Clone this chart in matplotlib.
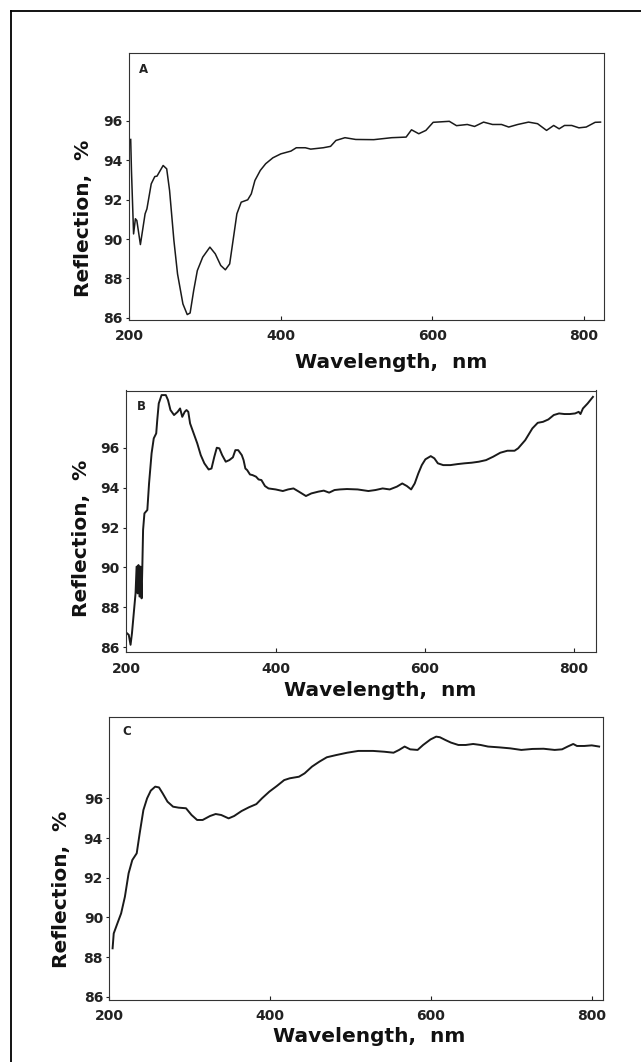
import matplotlib
matplotlib.use("Agg")
import matplotlib.pyplot as plt
from matplotlib.lines import Line2D

# ---------------- data ----------------
wl_a = [201.9, 202.9, 205.7, 208.1, 210.0, 214.7, 220.9, 223.3, 229.0, 233.7, 236.6, 244.7,
        249.4, 253.2, 258.9, 263.7, 270.8, 276.5, 280.3, 285.0, 289.8, 296.9, 306.4, 313.5,
        320.7, 326.8, 332.5, 338.2, 342.0, 347.7, 356.3, 361.0, 365.8, 372.9, 380.0, 389.5,
        400.0, 413.3, 420.4, 432.3, 439.4, 456.0, 465.6, 472.7, 484.6, 498.8, 522.6, 546.3,
        565.3, 572.4, 582.0, 591.4, 601.0, 622.3, 631.8, 646.0, 655.6, 667.5, 679.3, 691.2,
        700.7, 712.6, 726.8, 738.7, 750.6, 760.0, 767.2, 774.3, 783.8, 793.3, 802.9, 814.7, 821.8]
refl_a = [95.05, 93.48, 90.26, 91.03, 90.94, 89.72, 91.28, 91.53, 92.80, 93.17, 93.19, 93.73,
          93.56, 92.46, 89.93, 88.23, 86.71, 86.17, 86.25, 87.39, 88.40, 89.08, 89.59, 89.25,
          88.66, 88.44, 88.74, 90.26, 91.28, 91.87, 91.99, 92.29, 92.97, 93.48, 93.82, 94.12,
          94.32, 94.46, 94.63, 94.63, 94.56, 94.63, 94.70, 95.00, 95.14, 95.05, 95.04, 95.14,
          95.17, 95.54, 95.34, 95.51, 95.92, 95.97, 95.75, 95.81, 95.71, 95.93, 95.81, 95.81,
          95.68, 95.81, 95.93, 95.85, 95.51, 95.76, 95.59, 95.76, 95.76, 95.64, 95.68, 95.92, 95.93]

wl_b = [200.7, 203.1, 205.5, 207.4, 209.8, 212.2, 213.6, 215.1, 216.1, 217.5, 218.9, 220.3,
        221.3, 222.3, 224.1, 228.0, 230.3, 233.7, 236.6, 239.9, 241.3, 243.3, 247.1, 252.8,
        255.7, 259.0, 263.8, 268.6, 271.9, 274.8, 278.1, 280.5, 282.9, 285.3, 290.1, 294.9,
        299.6, 304.4, 310.2, 314.0, 317.8, 321.1, 324.5, 328.3, 333.1, 337.9, 342.7, 346.0,
        349.8, 354.6, 357.0, 359.4, 361.8, 365.6, 368.9, 373.7, 377.1, 380.9, 385.7, 390.4,
        400.0, 409.6, 416.7, 423.9, 431.1, 440.6, 447.8, 457.3, 464.5, 471.7, 478.9, 486.0,
        495.6, 509.9, 524.3, 533.8, 543.4, 552.9, 562.5, 569.7, 575.9, 581.6, 586.4, 591.2,
        595.9, 600.7, 607.9, 612.7, 617.4, 624.6, 634.2, 643.7, 653.3, 662.8, 672.4, 682.0,
        691.5, 701.1, 710.6, 720.2, 725.0, 734.5, 744.1, 751.3, 758.4, 765.6, 772.8, 779.9,
        787.1, 794.3, 801.4, 806.2, 808.6, 811.9, 818.2, 825.3]
refl_b = [86.70, 86.62, 86.12, 86.70, 87.70, 88.70, 90.04, 88.70, 90.12, 88.54, 90.04, 88.45,
          90.04, 91.88, 92.71, 92.88, 94.21, 95.72, 96.47, 96.72, 97.39, 98.22, 98.64, 98.64,
          98.39, 97.89, 97.64, 97.80, 97.97, 97.55, 97.80, 97.89, 97.80, 97.22, 96.72, 96.22,
          95.63, 95.22, 94.91, 94.96, 95.55, 96.00, 95.97, 95.63, 95.30, 95.38, 95.52, 95.88,
          95.88, 95.63, 95.38, 94.96, 94.88, 94.66, 94.63, 94.55, 94.41, 94.38, 94.08, 93.96,
          93.91, 93.83, 93.91, 93.96, 93.80, 93.58, 93.71, 93.80, 93.85, 93.75, 93.88, 93.91,
          93.93, 93.91, 93.83, 93.88, 93.96, 93.91, 94.05, 94.21, 94.08, 93.91, 94.21, 94.71,
          95.13, 95.42, 95.58, 95.47, 95.22, 95.13, 95.13, 95.18, 95.22, 95.25, 95.30, 95.38,
          95.55, 95.75, 95.85, 95.85, 95.97, 96.38, 96.97, 97.25, 97.30, 97.42, 97.64, 97.72,
          97.69, 97.69, 97.72, 97.80, 97.69, 97.97, 98.22, 98.55]

wl_c = [204.1, 205.5, 210.1, 214.7, 219.4, 224.0, 228.6, 234.1, 237.8, 242.4, 247.0, 251.6,
        257.1, 261.8, 266.4, 272.4, 279.3, 286.2, 295.4, 302.3, 309.2, 316.1, 325.3, 332.3,
        339.2, 348.4, 355.3, 364.5, 373.7, 382.9, 389.9, 399.1, 408.3, 417.5, 424.4, 435.9,
        442.9, 452.1, 461.3, 470.5, 482.0, 495.9, 509.7, 528.1, 541.9, 553.5, 560.4, 567.3,
        574.2, 583.4, 590.3, 599.5, 606.5, 611.1, 618.0, 624.9, 634.1, 643.3, 652.5, 661.8,
        671.0, 684.8, 698.6, 712.4, 726.3, 740.1, 753.9, 763.1, 770.0, 777.0, 781.6, 790.8,
        800.0, 809.2]
refl_c = [88.44, 89.19, 89.70, 90.20, 91.04, 92.22, 92.89, 93.23, 94.24, 95.41, 96.00, 96.39,
          96.59, 96.55, 96.25, 95.83, 95.58, 95.53, 95.50, 95.16, 94.91, 94.91, 95.11, 95.21,
          95.16, 94.99, 95.11, 95.36, 95.55, 95.71, 96.00, 96.34, 96.62, 96.92, 97.01, 97.09,
          97.26, 97.60, 97.85, 98.07, 98.18, 98.30, 98.39, 98.39, 98.35, 98.30, 98.44, 98.61,
          98.47, 98.44, 98.69, 98.97, 99.11, 99.08, 98.94, 98.81, 98.69, 98.69, 98.74, 98.69,
          98.61, 98.57, 98.52, 98.44, 98.49, 98.50, 98.44, 98.47, 98.61, 98.74, 98.64, 98.64,
          98.67, 98.61]

x_ticks = [200, 400, 600, 800]
y_ticks = [86, 88, 90, 92, 94, 96]
panel_letters = ["A", "B", "C"]
x_label = "Wavelength,  nm"
y_label = "Reflection,  %"

# ---------------- figure ----------------
W, H = 641, 1062
fig = plt.figure(figsize=(W / 100, H / 100), dpi=100)
fig.patch.set_facecolor("white")

def box(l, t, r, b):
    return [l / W, 1 - b / H, (r - l) / W, (b - t) / H]

panels = [
    dict(rect=box(128.5, 52.7, 603.7, 319.5), x=wl_a, y=refl_a, xlim=(199, 826), ylim=(85.92, 99.45),
         lw=1.1, letter=(143.5, 69.5), xl=(391, 363), yl=(83, 218)),
    dict(rect=box(125.7, 390.5, 595.7, 652.0), x=wl_b, y=refl_b, xlim=(199, 829), ylim=(85.76, 98.87),
         lw=1.4, letter=(141, 406), xl=(380, 691), yl=(82, 538)),
    dict(rect=box(109.3, 717.0, 603.0, 999.7), x=wl_c, y=refl_c, xlim=(200, 814), ylim=(85.85, 100.1),
         lw=1.4, letter=(126.7, 731.7), xl=(369.5, 1036), yl=(62, 889)),
]

FONT = "DejaVu Sans"
for p, letter in zip(panels, panel_letters):
    ax = fig.add_axes(p["rect"])
    ax.plot(p["x"], p["y"], color="#1a1a1a", lw=p["lw"], solid_joinstyle="round")
    ax.set_xlim(*p["xlim"])
    ax.set_ylim(*p["ylim"])
    ax.set_xticks(x_ticks)
    ax.set_yticks(y_ticks)
    ax.tick_params(axis="x", direction="in", length=3, width=0.8, pad=7, labelsize=10, colors="#222222")
    ax.tick_params(axis="y", direction="out", length=2.5, width=0.8, pad=2, labelsize=10, colors="#222222")
    for lab in ax.get_xticklabels() + ax.get_yticklabels():
        lab.set_fontweight("bold")
        lab.set_fontfamily(FONT)
    for s in ax.spines.values():
        s.set_linewidth(0.8)
        s.set_color("#333333")
    fig.text(p["letter"][0] / W, 1 - p["letter"][1] / H, letter, ha="center", va="center",
             fontsize=8.5, fontweight="bold", family=FONT, color="#222222")
    fig.text(p["xl"][0] / W, 1 - p["xl"][1] / H, x_label, ha="center", va="center",
             fontsize=14.5, fontweight="bold", family=FONT, color="#111111")
    fig.text(p["yl"][0] / W, 1 - p["yl"][1] / H, y_label, ha="center", va="center", rotation=90,
             fontsize=14.5, fontweight="bold", family=FONT, color="#111111")

# outer frame (left and top edges)
fig.add_artist(Line2D([11 / W, 11 / W], [0, 1 - 11 / H], transform=fig.transFigure, color="black", lw=1.3))
fig.add_artist(Line2D([11 / W, 1], [1 - 11 / H, 1 - 11 / H], transform=fig.transFigure, color="black", lw=1.3))

fig.savefig("out.png", dpi=100)
